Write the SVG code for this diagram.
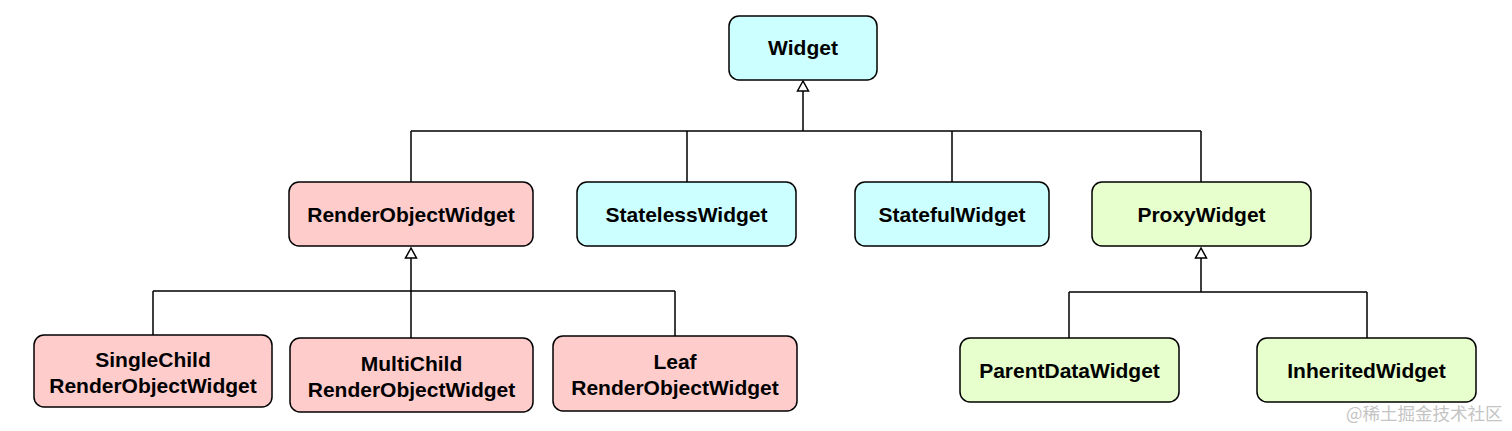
<svg xmlns="http://www.w3.org/2000/svg" width="1512" height="431" viewBox="0 0 1512 431">
<style>
  .box { stroke: #000; stroke-width: 1.5; }
  .cyan { fill: #CCFFFF; }
  .pink { fill: #FFCCCC; }
  .green { fill: #E6FFCC; }
  .lbl { font-family: "Liberation Sans", Arial, sans-serif; font-weight: bold; font-size: 21px; fill: #000; text-anchor: middle; }
  .wire { fill: none; stroke: #000; stroke-width: 1.5; }
  .head { fill: #fff; stroke: #000; stroke-width: 1.5; }
  .wm { font-family: "Noto Sans CJK SC", "Liberation Sans", sans-serif; font-size: 17.5px; fill: #c4c4c4; }
</style>
<rect width="1512" height="431" fill="#fff"/>
<g id="connectors">
  <path class="wire" d="M803 91 V131 M411 131 H1201 M411 131 V182 M687 131 V182 M952 131 V182 M1201 131 V182"/>
  <polygon class="head" points="803,81 797.5,91 808.5,91"/>
  <path class="wire" d="M411 258 V338 M153 291 H675 M153 291 V335 M675 291 V336"/>
  <polygon class="head" points="411,248 405.5,258 416.5,258"/>
  <path class="wire" d="M1201 258 V292 M1069 292 H1367 M1069 292 V338 M1367 292 V338"/>
  <polygon class="head" points="1201,248 1195.5,258 1206.5,258"/>
</g>
<g id="widget">
  <rect class="box cyan" x="729" y="16" width="148" height="64" rx="10"/>
  <text class="lbl" x="803" y="55">Widget</text>
</g>
<g id="renderobjectwidget">
  <rect class="box pink" x="289" y="182" width="244" height="64" rx="10"/>
  <text class="lbl" x="411" y="222">RenderObjectWidget</text>
</g>
<g id="statelesswidget">
  <rect class="box cyan" x="577" y="182" width="219" height="64" rx="10"/>
  <text class="lbl" x="686.5" y="222">StatelessWidget</text>
</g>
<g id="statefulwidget">
  <rect class="box cyan" x="855" y="182" width="194" height="64" rx="10"/>
  <text class="lbl" x="952" y="222">StatefulWidget</text>
</g>
<g id="proxywidget">
  <rect class="box green" x="1092" y="182" width="219" height="64" rx="10"/>
  <text class="lbl" x="1201.5" y="222">ProxyWidget</text>
</g>
<g id="singlechild">
  <rect class="box pink" x="34" y="335" width="238" height="72" rx="10"/>
  <text class="lbl" x="153" y="367">SingleChild</text>
  <text class="lbl" x="153" y="392.5">RenderObjectWidget</text>
</g>
<g id="multichild">
  <rect class="box pink" x="290" y="338" width="243" height="74" rx="10"/>
  <text class="lbl" x="411.5" y="371">MultiChild</text>
  <text class="lbl" x="411.5" y="396.5">RenderObjectWidget</text>
</g>
<g id="leaf">
  <rect class="box pink" x="553" y="336" width="244" height="75" rx="10"/>
  <text class="lbl" x="675" y="368.5">Leaf</text>
  <text class="lbl" x="675" y="394.5">RenderObjectWidget</text>
</g>
<g id="parentdatawidget">
  <rect class="box green" x="960" y="338" width="219" height="64" rx="10"/>
  <text class="lbl" x="1069.5" y="378">ParentDataWidget</text>
</g>
<g id="inheritedwidget">
  <rect class="box green" x="1257" y="338" width="219" height="64" rx="10"/>
  <text class="lbl" x="1366.5" y="378">InheritedWidget</text>
</g>
<text class="wm" x="1346" y="420">@稀土掘金技术社区</text>
</svg>
